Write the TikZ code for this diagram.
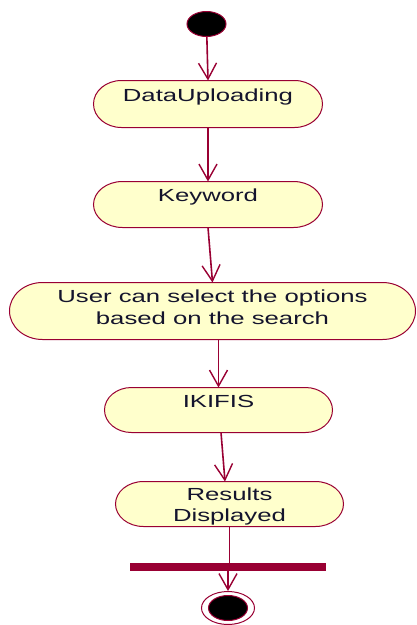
\documentclass[tikz,border=0pt]{standalone}
\usepackage{fontspec}
\setmainfont{Liberation Sans}[FakeStretch=1.47]
\usetikzlibrary{arrows.meta,shapes.geometric}

\definecolor{umlred}{RGB}{153,0,51}
\definecolor{umlfill}{RGB}{255,255,204}
\definecolor{umltext}{RGB}{20,20,45}

% Activity state: flat top and bottom, elliptic ends of width "act end"
\makeatletter
\pgfkeys{/pgf/act end/.initial=28pt}
\pgfdeclareshape{actstate}{
  \inheritsavedanchors[from=rectangle]
  \inheritanchorborder[from=rectangle]
  \inheritanchor[from=rectangle]{center}
  \inheritanchor[from=rectangle]{mid}
  \inheritanchor[from=rectangle]{base}
  \inheritanchor[from=rectangle]{north}
  \inheritanchor[from=rectangle]{south}
  \inheritanchor[from=rectangle]{east}
  \inheritanchor[from=rectangle]{west}
  \inheritanchor[from=rectangle]{north east}
  \inheritanchor[from=rectangle]{north west}
  \inheritanchor[from=rectangle]{south east}
  \inheritanchor[from=rectangle]{south west}
  \backgroundpath{
    \southwest \edef\act@xa{\the\pgf@x}\edef\act@ya{\the\pgf@y}
    \northeast \edef\act@xb{\the\pgf@x}\edef\act@yb{\the\pgf@y}
    \pgfmathsetlength\pgf@xc{\pgfkeysvalueof{/pgf/act end}}
    \edef\act@rx{\the\pgf@xc}
    \edef\act@ry{\the\dimexpr(\act@yb-\act@ya)/2\relax}
    \pgfpathmoveto{\pgfqpoint{\dimexpr\act@xa+\act@rx\relax}{\act@yb}}
    \pgfpathlineto{\pgfqpoint{\dimexpr\act@xb-\act@rx\relax}{\act@yb}}
    \pgfpatharc{90}{-90}{\act@rx and \act@ry}
    \pgfpathlineto{\pgfqpoint{\dimexpr\act@xa+\act@rx\relax}{\act@ya}}
    \pgfpatharc{270}{90}{\act@rx and \act@ry}
    \pgfpathclose
  }
}
\makeatother

\tikzset{
  actbox/.style={actstate, draw=umlred, fill=umlfill, line width=1pt,
    inner sep=0pt, align=center, text=umltext,
    font=\fontsize{17.5}{21.5}\selectfont},
  flow/.style={draw=umlred, line width=1.6pt,
    -{Straight Barb[length=16pt,width=18pt,line width=1.4pt]}},
  plainflow/.style={draw=umlred, line width=1.6pt},
  dot/.style={ellipse, inner sep=0pt, minimum width=39pt, minimum height=25pt,
    fill=black, draw=umlred, line width=1pt}
}

\begin{document}
\begin{tikzpicture}[x=1pt,y=-1pt]
\useasboundingbox (0,0) rectangle (416,625);

% initial state
\node[dot] (start) at (206.5,24) {};

% activities (text height = distance from top edge to the last baseline)
\node[actbox, minimum width=228, minimum height=46, text height=20, text depth=26,
  /pgf/act end=28pt] (du) at (208,104) {DataUploading};
\node[actbox, minimum width=228, minimum height=45, text height=19, text depth=26,
  /pgf/act end=29pt] (kw) at (208,204.5) {Keyword};
\node[actbox, minimum width=405, minimum height=56, text height=41, text depth=15,
  /pgf/act end=33pt] (us) at (212.5,311) {User can select the options\\based on the search};
\node[actbox, minimum width=227, minimum height=44, text height=19, text depth=25,
  /pgf/act end=27pt] (ik) at (218.5,410) {IKIFIS};
\node[actbox, minimum width=227, minimum height=44, text height=39.5, text depth=4.5,
  /pgf/act end=28pt] (rs) at (229.5,504) {Results\\Displayed};

% synchronisation bar
\node[rectangle, fill=umlred, inner sep=0pt, minimum width=196, minimum height=8]
  (bar) at (228,567) {};

% final state
\node[ellipse, draw=umlred, fill=white, line width=1pt, inner sep=0pt,
  minimum width=53pt, minimum height=33pt] (end) at (228,608) {};
\node[dot] (enddot) at (end.center) {};

% transitions
\draw[flow] (start) -- (du.north);
\draw[flow] (du.south) -- (kw.north);
\draw[flow] (kw.south) -- (us.north);
\draw[flow] (ik.north |- us.south) -- (ik.north);
\draw[flow] ([xshift=2.5pt]ik.south) -- ([xshift=-4.5pt]rs.north);
\draw[plainflow] (rs.south) -- (rs.south |- bar.north);
\draw[flow] (end.north |- bar.south) -- (end.north);
\end{tikzpicture}
\end{document}
